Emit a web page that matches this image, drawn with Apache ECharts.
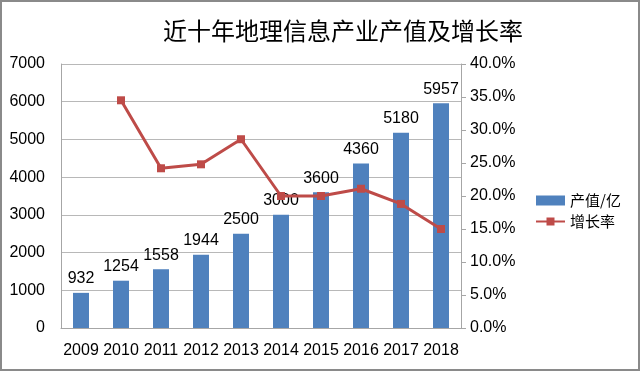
<!DOCTYPE html>
<html><head><meta charset="utf-8">
<script src="https://cdn.jsdelivr.net/npm/echarts@6/dist/echarts.min.js"></script>
<style>html,body{margin:0;padding:0;background:#fff}#c{width:640px;height:371px}</style>
</head><body><div id="c"></div>
<script>
var years = ['2009','2010','2011','2012','2013','2014','2015','2016','2017','2018'];
var outputValues = [932,1254,1558,1944,2500,3000,3600,4360,5180,5957];
var growthRates = [null,0.345,0.242,0.248,0.286,0.200,0.200,0.211,0.188,0.150];
var titleText = '近十年地理信息产业产值及增长率';
var barName = '产值/亿';
var lineName = '增长率';

var chart = echarts.init(document.getElementById('c'));
var numFont = '"Liberation Sans Narrow", "Liberation Sans", sans-serif';
chart.setOption({
  animation: false,
  backgroundColor: '#fff',
  graphic: [{type:'rect', shape:{x:1,y:1,width:638,height:369}, style:{fill:'none', stroke:'#8a8a8a', lineWidth:2}, silent:true}],
  title: {text: titleText, left: 338, top: 14, textAlign: 'center',
    textStyle: {fontFamily: 'Noto Sans CJK SC', fontWeight: 'normal', fontSize: 24, color: '#000'}},
  grid: {left: 61, right: 179, top: 64, bottom: 43},
  legend: {orient: 'vertical', left: 530, top: 188, itemWidth: 29, itemHeight: 10, itemGap: 6,
    textStyle: {fontFamily: 'Noto Sans CJK SC', fontSize: 15, color: '#000'},
    data: [{name: barName, icon: 'rect'}, {name: lineName}]},
  xAxis: {type: 'category', data: years, boundaryGap: true,
    axisLine: {lineStyle: {color: '#a6a6a6'}}, axisTick: {show: false},
    axisLabel: {color: '#000', fontSize: 16, fontFamily: numFont, margin: 15, interval: 0}},
  yAxis: [
    {type: 'value', min: 0, max: 7000, interval: 1000,
     axisLine: {show: true, lineStyle: {color: '#a6a6a6'}}, axisTick: {show: false},
     splitLine: {lineStyle: {color: '#b8b8b8'}},
     axisLabel: {color: '#000', fontSize: 16, fontFamily: numFont, margin: 16,
       formatter: function(v){ return String(v); }}},
    {type: 'value', min: 0, max: 0.4, interval: 0.05, position: 'right',
     axisLine: {show: true, lineStyle: {color: '#a6a6a6'}},
     axisTick: {show: true, length: 5, lineStyle: {color: '#a6a6a6'}},
     splitLine: {show: false},
     axisLabel: {color: '#000', fontSize: 16, fontFamily: numFont, margin: 9,
       formatter: function(v){ return (v*100).toFixed(1) + '%'; }}}
  ],
  series: [
    {name: barName, type: 'bar', data: outputValues, barWidth: 16, yAxisIndex: 0,
     itemStyle: {color: '#4f81bd'},
     label: {show: true, position: 'top', distance: 6, color: '#000', fontSize: 16, fontFamily: numFont}},
    {name: lineName, type: 'line', data: growthRates, yAxisIndex: 1,
     symbol: 'rect', symbolSize: 8, connectNulls: false,
     lineStyle: {color: '#be4b48', width: 3}, itemStyle: {color: '#be4b48'}}
  ]
});
</script></body></html>
